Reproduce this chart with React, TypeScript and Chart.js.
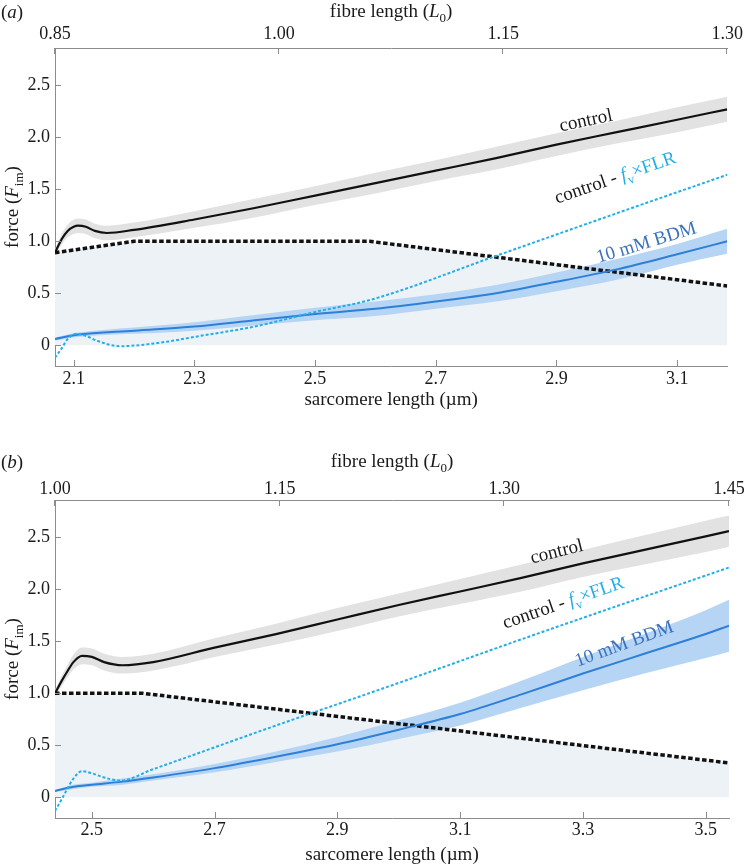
import React, { useEffect, useRef } from "react";
import { Chart, registerables } from "chart.js";

Chart.register(...registerables);

// ---------- shared tick values ----------
const forceTicks = [0, 0.5, 1.0, 1.5, 2.0, 2.5];

// ---------- panel (a) ----------
const sarcTicksA = [2.1, 2.3, 2.5, 2.7, 2.9, 3.1];
const fibreTicksA = [0.85, 1.0, 1.15, 1.3];

const ctrlXA = [2.069, 2.08, 2.09, 2.1, 2.107, 2.12, 2.135, 2.155, 2.2, 2.3, 2.4, 2.5, 2.6, 2.7, 2.8, 2.9, 3.0, 3.1, 3.183];
const ctrlYA = [0.89, 1.02, 1.1, 1.14, 1.15, 1.14, 1.1, 1.08, 1.11, 1.21, 1.32, 1.44, 1.56, 1.68, 1.8, 1.93, 2.05, 2.17, 2.27];
const ctrlSpreadA = [0.03, 0.05, 0.06, 0.07, 0.07, 0.07, 0.07, 0.07, 0.07, 0.08, 0.09, 0.09, 0.1, 0.1, 0.11, 0.11, 0.11, 0.12, 0.12];

const flrXA = [2.069, 2.2, 2.59, 3.183];
const flrYA = [0.89, 1.0, 1.0, 0.57];

const diffXA = [2.069, 2.08, 2.09, 2.105, 2.12, 2.14, 2.176, 2.25, 2.3, 2.4, 2.5, 2.594, 2.8, 3.0, 3.183];
const diffYA = [-0.12, -0.03, 0.06, 0.11, 0.09, 0.04, -0.01, 0.03, 0.08, 0.18, 0.32, 0.44, 0.86, 1.27, 1.64];

const bdmXA = [2.069, 2.105, 2.2, 2.3, 2.4, 2.5, 2.6, 2.7, 2.8, 2.9, 3.0, 3.1, 3.183];
const bdmYA = [0.06, 0.1, 0.14, 0.18, 0.24, 0.3, 0.35, 0.42, 0.5, 0.61, 0.73, 0.875, 1.0];
const bdmSpreadA = [0.015, 0.02, 0.03, 0.04, 0.05, 0.06, 0.07, 0.07, 0.08, 0.09, 0.1, 0.1, 0.12];

// ---------- panel (b) ----------
const sarcTicksB = [2.5, 2.7, 2.9, 3.1, 3.3, 3.5];
const fibreTicksB = [1.0, 1.15, 1.3, 1.45];

const ctrlXB = [2.44, 2.45, 2.46, 2.47, 2.484, 2.5, 2.52, 2.55, 2.6, 2.7, 2.8, 2.9, 3.0, 3.1, 3.2, 3.3, 3.4, 3.5, 3.538];
const ctrlYB = [1.0, 1.11, 1.21, 1.3, 1.36, 1.35, 1.3, 1.27, 1.3, 1.44, 1.57, 1.71, 1.85, 1.98, 2.11, 2.25, 2.38, 2.51, 2.56];
const ctrlSpreadB = [0.03, 0.05, 0.06, 0.07, 0.08, 0.08, 0.08, 0.08, 0.08, 0.09, 0.1, 0.11, 0.11, 0.12, 0.13, 0.13, 0.14, 0.15, 0.15];

const flrXB = [2.44, 2.583, 3.538];
const flrYB = [1.0, 1.0, 0.33];

const diffXB = [2.44, 2.45, 2.46, 2.47, 2.484, 2.5, 2.52, 2.546, 2.6, 2.8, 3.0, 3.2, 3.4, 3.538];
const diffYB = [-0.13, -0.03, 0.08, 0.18, 0.25, 0.23, 0.19, 0.16, 0.27, 0.69, 1.1, 1.52, 1.93, 2.21];

const bdmXB = [2.44, 2.47, 2.5, 2.55, 2.6, 2.7, 2.8, 2.9, 3.0, 3.1, 3.2, 3.3, 3.4, 3.5, 3.538];
const bdmYB = [0.06, 0.1, 0.12, 0.15, 0.19, 0.28, 0.39, 0.51, 0.65, 0.8, 0.99, 1.19, 1.38, 1.57, 1.65];
const bdmSpreadB = [0.01, 0.02, 0.02, 0.03, 0.03, 0.04, 0.05, 0.07, 0.09, 0.11, 0.13, 0.16, 0.19, 0.23, 0.25];

// ---------- styles ----------
const FONT = '"Liberation Serif", "Times New Roman", serif';
const AXIS = "#8c8c8c";
const TEXT = "#1a1a1a";
const CYAN = "#22afe8";
const BLUE = "#2d7fd8";
const BLUE_TEXT = "#3a72bd";
const TITLE_SIZE = 19;

type Seg = { t: string; it?: boolean; sub?: boolean; color?: string };

function drawRich(ctx: CanvasRenderingContext2D, segs: Seg[], x: number, y: number, angle: number, align: "left" | "center", size = TITLE_SIZE) {
  ctx.save();
  ctx.translate(x, y);
  ctx.rotate((angle * Math.PI) / 180);
  const fontFor = (s: Seg) => `${s.it ? "italic " : ""}${s.sub ? Math.round(size * 0.68) : size}px ${FONT}`;
  const widths = segs.map((s) => {
    ctx.font = fontFor(s);
    return ctx.measureText(s.t).width;
  });
  const total = widths.reduce((a, b) => a + b, 0);
  let cx = align === "center" ? -total / 2 : 0;
  ctx.textAlign = "left";
  ctx.textBaseline = "alphabetic";
  segs.forEach((s, i) => {
    ctx.font = fontFor(s);
    ctx.fillStyle = s.color || TEXT;
    ctx.fillText(s.t, cx, s.sub ? size * 0.27 : 0);
    cx += widths[i];
  });
  ctx.restore();
}

const pts = (xs: number[], ys: number[]) => xs.map((x, i) => ({ x, y: ys[i] }));

type PanelCfg = {
  H: number;
  top: number;
  letter: string;
  sarcMin: number;
  sarcMax: number;
  fibreMin: number;
  fibreMax: number;
  sarcTicks: number[];
  fibreTicks: number[];
  ctrlX: number[];
  ctrlY: number[];
  ctrlSpread: number[];
  flrX: number[];
  flrY: number[];
  diffX: number[];
  diffY: number[];
  bdmX: number[];
  bdmY: number[];
  bdmSpread: number[];
  topPad: number;
  bottomPad: number;
  topTitleY: number;
  bottomTitleY: number;
  lblControl: number[];
  lblDiff: number[];
  lblBdm: number[];
};

const panelA: PanelCfg = {
  H: 430,
  top: 0,
  letter: "a",
  sarcMin: 2.069,
  sarcMax: 3.183,
  fibreMin: 0.85,
  fibreMax: 1.3,
  sarcTicks: sarcTicksA,
  fibreTicks: fibreTicksA,
  ctrlX: ctrlXA,
  ctrlY: ctrlYA,
  ctrlSpread: ctrlSpreadA,
  flrX: flrXA,
  flrY: flrYA,
  diffX: diffXA,
  diffY: diffYA,
  bdmX: bdmXA,
  bdmY: bdmYA,
  bdmSpread: bdmSpreadA,
  topPad: 3,
  bottomPad: 2,
  topTitleY: 17,
  bottomTitleY: 405,
  lblControl: [587, 121, -12],
  lblDiff: [617, 178, -19],
  lblBdm: [648, 243, -17],
};

const panelB: PanelCfg = {
  H: 412,
  top: 452,
  letter: "b",
  sarcMin: 2.44,
  sarcMax: 3.538,
  fibreMin: 1.0,
  fibreMax: 1.45,
  sarcTicks: sarcTicksB,
  fibreTicks: fibreTicksB,
  ctrlX: ctrlXB,
  ctrlY: ctrlYB,
  ctrlSpread: ctrlSpreadB,
  flrX: flrXB,
  flrY: flrYB,
  diffX: diffXB,
  diffY: diffYB,
  bdmX: bdmXB,
  bdmY: bdmYB,
  bdmSpread: bdmSpreadB,
  topPad: 0,
  bottomPad: 1,
  topTitleY: 15,
  bottomTitleY: 408,
  lblControl: [558, 100, -14],
  lblDiff: [565, 151, -19],
  lblBdm: [626, 192, -20],
};

const CHART_LEFT = 55;
const CHART_RIGHT = 729;
const CHART_TOP = 48;
const CHART_BOTTOM = 366;

function Panel({ cfg }: { cfg: PanelCfg }) {
  const ref = useRef<HTMLCanvasElement | null>(null);

  useEffect(() => {
    if (!ref.current) return;
    const c = cfg;
    const fixTicks = (vals: number[]) => (s: any) => {
      s.ticks = vals.map((v) => ({ value: v }));
    };
    const tickFont = { family: FONT, size: 18 };

    const decorations = {
      id: "decorations",
      afterDraw(chart: any) {
        const ctx: CanvasRenderingContext2D = chart.ctx;
        const a = chart.chartArea;
        const L = 6;
        ctx.save();
        ctx.strokeStyle = AXIS;
        ctx.lineWidth = 1;
        ctx.beginPath();
        const sx = chart.scales.x;
        const sx2 = chart.scales.x2;
        const sy = chart.scales.y;
        sx.ticks.forEach((t: any) => {
          const p = Math.round(sx.getPixelForValue(t.value)) + 0.5;
          ctx.moveTo(p, a.bottom);
          ctx.lineTo(p, a.bottom - L);
        });
        sx2.ticks.forEach((t: any) => {
          const p = Math.round(sx2.getPixelForValue(t.value)) - 0.5;
          ctx.moveTo(p, a.top);
          ctx.lineTo(p, a.top + L);
        });
        sy.ticks.forEach((t: any) => {
          const p = Math.round(sy.getPixelForValue(t.value)) + 0.5;
          ctx.moveTo(a.left, p);
          ctx.lineTo(a.left + L, p);
        });
        ctx.stroke();
        ctx.restore();

        // panel letter
        drawRich(ctx, [{ t: "(" }, { t: c.letter, it: true }, { t: ")" }], 1, c.topTitleY + 1, 0, "left");
        // axis titles
        const midX = (a.left + a.right) / 2;
        drawRich(ctx, [{ t: "fibre length (" }, { t: "L", it: true }, { t: "0", sub: true }, { t: ")" }], midX, c.topTitleY, 0, "center");
        drawRich(ctx, [{ t: "sarcomere length (\u00b5m)" }], midX, c.bottomTitleY, 0, "center");
        drawRich(ctx, [{ t: "force (" }, { t: "F", it: true }, { t: "im", sub: true }, { t: ")" }], 18, (a.top + a.bottom) / 2, -90, "center");
        // curve labels
        drawRich(ctx, [{ t: "control" }], c.lblControl[0], c.lblControl[1] + 5, c.lblControl[2], "center");
        drawRich(
          ctx,
          [
            { t: "control - " },
            { t: "f", it: true, color: CYAN },
            { t: "v", sub: true, color: CYAN },
            { t: "\u00d7FLR", color: CYAN },
          ],
          c.lblDiff[0],
          c.lblDiff[1] + 5,
          c.lblDiff[2],
          "center"
        );
        drawRich(ctx, [{ t: "10 mM BDM", color: BLUE_TEXT }], c.lblBdm[0], c.lblBdm[1] + 5, c.lblBdm[2], "center");
      },
    };

    const ctrlUpper = c.ctrlX.map((x, i) => ({ x, y: c.ctrlY[i] + c.ctrlSpread[i] }));
    const ctrlLower = c.ctrlX.map((x, i) => ({ x, y: c.ctrlY[i] - c.ctrlSpread[i] }));
    const bdmUpper = c.bdmX.map((x, i) => ({ x, y: c.bdmY[i] + c.bdmSpread[i] }));
    const bdmLower = c.bdmX.map((x, i) => ({ x, y: c.bdmY[i] - c.bdmSpread[i] }));

    const chart = new Chart(ref.current, {
      type: "line",
      data: {
        datasets: [
          { data: pts(c.flrX, c.flrY), borderWidth: 0, fill: "origin", backgroundColor: "#edf2f7", tension: 0, order: 10 } as any,
          { data: ctrlUpper, borderWidth: 0, fill: false, cubicInterpolationMode: "monotone", order: 9 } as any,
          { data: ctrlLower, borderWidth: 0, fill: "-1", backgroundColor: "#e2e2e2", cubicInterpolationMode: "monotone", order: 8 } as any,
          { data: bdmUpper, borderWidth: 0, fill: false, cubicInterpolationMode: "monotone", order: 7 } as any,
          { data: bdmLower, borderWidth: 0, fill: "-1", backgroundColor: "#b6d5f5", cubicInterpolationMode: "monotone", order: 6 } as any,
          { data: pts(c.flrX, c.flrY), borderColor: "#111111", borderWidth: 3.5, borderDash: [4.5, 2.5], fill: false, tension: 0, order: 5 } as any,
          { data: pts(c.ctrlX, c.ctrlY), borderColor: "#111111", borderWidth: 2.2, fill: false, cubicInterpolationMode: "monotone", order: 4 } as any,
          { data: pts(c.bdmX, c.bdmY), borderColor: BLUE, borderWidth: 2, fill: false, cubicInterpolationMode: "monotone", order: 3 } as any,
          { data: pts(c.diffX, c.diffY), borderColor: CYAN, borderWidth: 2, borderDash: [3, 2], fill: false, cubicInterpolationMode: "monotone", order: 2 } as any,
        ],
      },
      options: {
        responsive: false,
        animation: false,
        devicePixelRatio: 1,
        layout: { padding: { left: 0, right: 746 - CHART_RIGHT, top: 0, bottom: 0 } },
        elements: { point: { radius: 0 } },
        plugins: { legend: { display: false }, tooltip: { enabled: false } },
        scales: {
          x: {
            type: "linear",
            position: "bottom",
            min: c.sarcMin,
            max: c.sarcMax,
            afterBuildTicks: fixTicks(c.sarcTicks),
            afterFit: (s: any) => {
              s.height = c.H - CHART_BOTTOM;
            },
            ticks: { callback: (v: any) => Number(v).toFixed(1), font: tickFont, color: TEXT, padding: c.bottomPad, maxRotation: 0, autoSkip: false },
            grid: { display: false, drawTicks: false },
            border: { display: true, color: AXIS, width: 1 },
          },
          x2: {
            type: "linear",
            position: "top",
            min: c.fibreMin,
            max: c.fibreMax,
            afterBuildTicks: fixTicks(c.fibreTicks),
            afterFit: (s: any) => {
              s.height = CHART_TOP;
            },
            ticks: { callback: (v: any) => Number(v).toFixed(2), font: tickFont, color: TEXT, padding: c.topPad, maxRotation: 0, autoSkip: false },
            grid: { display: false, drawTicks: false },
            border: { display: true, color: AXIS, width: 1 },
          },
          y: {
            type: "linear",
            position: "left",
            min: -0.2,
            max: 2.86,
            afterBuildTicks: fixTicks(forceTicks),
            afterFit: (s: any) => {
              s.width = CHART_LEFT;
            },
            ticks: { callback: (v: any) => (Number(v) === 0 ? "0" : Number(v).toFixed(1)), font: tickFont, color: TEXT, padding: 5, autoSkip: false },
            grid: { display: false, drawTicks: false },
            border: { display: true, color: AXIS, width: 1 },
          },
        },
      } as any,
      plugins: [decorations],
    });
    return () => chart.destroy();
  }, [cfg]);

  return (
    <canvas
      ref={ref}
      width={746}
      height={cfg.H}
      style={{ position: "absolute", left: 0, top: cfg.top, width: 746, height: cfg.H, display: "block" }}
    />
  );
}

export default function App() {
  return (
    <div style={{ position: "absolute", left: 0, top: 0, width: 746, height: 864, background: "#ffffff" }}>
      <Panel cfg={panelA} />
      <Panel cfg={panelB} />
    </div>
  );
}
